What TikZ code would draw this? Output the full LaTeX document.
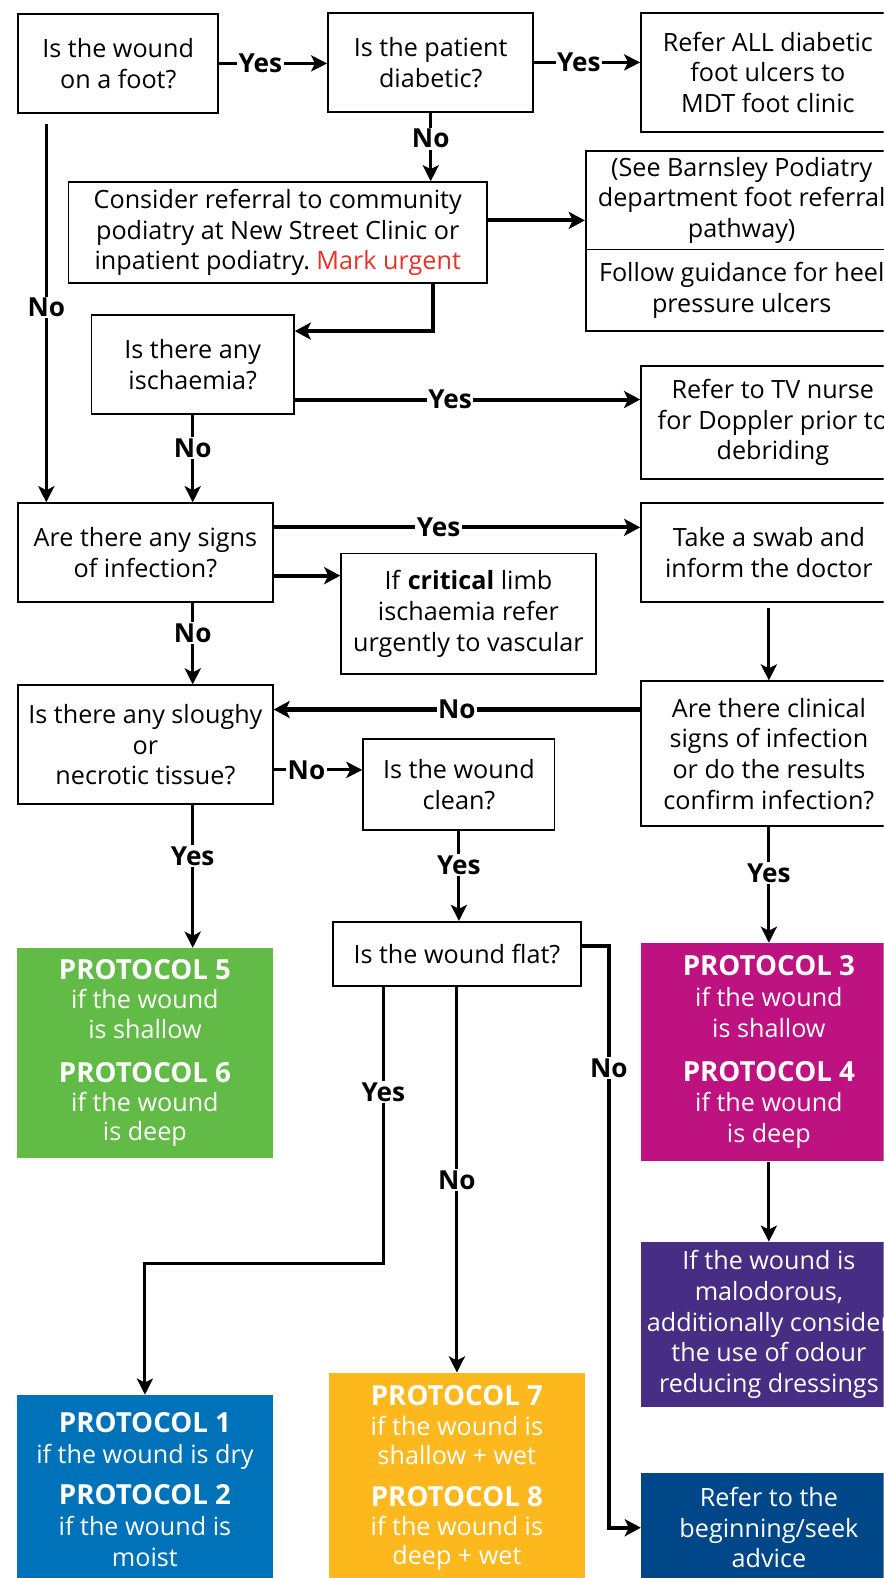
\documentclass[tikz,border=0pt]{standalone}
\usepackage{fontspec}
\setmainfont{Open Sans}
\usetikzlibrary{arrows.meta,calc}
\definecolor{pgreen}{RGB}{98,187,70}
\definecolor{pmag}{RGB}{190,18,128}
\definecolor{ppurple}{RGB}{72,45,132}
\definecolor{pdblue}{RGB}{0,71,138}
\definecolor{pblue}{RGB}{0,114,185}
\definecolor{pyellow}{RGB}{253,184,30}
\definecolor{mred}{RGB}{230,50,40}
\newcommand{\tf}{\fontsize{25}{30.5}\selectfont}
\newcommand{\tfs}{\fontsize{25}{29}\selectfont}
\newcommand{\ph}[1]{{\fontsize{27.5}{30}\selectfont\bfseries #1}}
\begin{document}
\begin{tikzpicture}[x=1pt,y=-1pt,
  box/.style={draw,line width=1.8pt,align=center,inner sep=0pt,font=\tf},
  pbox/.style={fill=#1,text=white,align=center,inner sep=0pt,font=\tf},
  arr/.style={line width=3pt,-{Stealth[length=16pt,width=16pt,inset=4pt]}},
  arrk/.style={line width=4pt,-{Stealth[length=16pt,width=17pt,inset=4pt]}},
  lbl/.style={fill=white,inner sep=1.5pt,font=\fontsize{26}{28}\selectfont\bfseries}]
\useasboundingbox (0,0) rectangle (878,1568);
\clip (0,0) rectangle (878,1568);
\fill[white] (0,0) rectangle (878,1568);
% boxes
\node[box,minimum width=199pt,minimum height=98pt] (A) at (117.5,63) {Is the wound\\on a foot?};
\node[box,minimum width=204pt,minimum height=98pt] (B) at (428,62) {Is the patient\\diabetic?};
\node[box,minimum width=252pt,minimum height=118pt] (C) at (763,72) {Refer ALL diabetic\\foot ulcers to\\MDT foot clinic};
\node[box,minimum width=416pt,minimum height=100pt] (D) at (276,231) {Consider referral to community\\podiatry at New Street Clinic or\\inpatient podiatry.\ \textcolor{mred}{Mark urgent}};
\node[box,minimum width=310pt,minimum height=98pt] (E) at (737,199) {(See Barnsley Podiatry\\department foot referral\\pathway)};
\node[box,minimum width=310pt,minimum height=81pt] (F) at (737,288.5) {Follow guidance for heel\\pressure ulcers};
\node[box,minimum width=201pt,minimum height=98pt] (G) at (191.5,362) {Is there any\\ischaemia?};
\node[box,minimum width=262pt,minimum height=112pt] (H) at (768,420) {Refer to TV nurse\\for Doppler prior to\\debriding};
\node[box,minimum width=253pt,minimum height=98pt] (I) at (144.5,549) {Are there any signs\\of infection?};
\node[box,minimum width=254pt,minimum height=98pt] (J) at (764,549) {Take a swab and\\inform the doctor};
\node[box,minimum width=253pt,minimum height=120pt] (K) at (465.5,610) {If \textbf{critical} limb\\ischaemia refer\\urgently to vascular};
\node[box,minimum width=253pt,minimum height=118pt] (L) at (144.5,740) {Is there any sloughy\\or\\necrotic tissue?};
\node[box,minimum width=254pt,minimum height=144pt] (M) at (764,749) {Are there clinical\\signs of infection\\or do the results\\confirm infection?};
\node[box,minimum width=190pt,minimum height=91pt] (N) at (456,779.5) {Is the wound\\clean?};
\node[box,minimum width=246pt,minimum height=64pt] (O) at (454,948) {Is the wound flat?};
% coloured boxes
\node[pbox=pgreen,font=\tfs,minimum width=254pt,minimum height=209pt] (P5) at (144,1046.5) {\ph{PROTOCOL 5}\\if the wound\\is shallow\\[15pt]\ph{PROTOCOL 6}\\if the wound\\is deep};
\node[pbox=pmag,minimum width=254pt,minimum height=217pt] (P3) at (764,1045.5) {\ph{PROTOCOL 3}\\if the wound\\is shallow\\[13pt]\ph{PROTOCOL 4}\\if the wound\\is deep};
\node[pbox=ppurple,minimum width=254pt,minimum height=164pt] (T) at (764,1316) {If the wound is\\malodorous,\\additionally consider\\the use of odour\\reducing dressings};
\node[pbox=pdblue,minimum width=254pt,minimum height=108pt] (S) at (764,1518) {Refer to the\\beginning/seek\\advice};
\node[pbox=pblue,minimum width=254pt,minimum height=188pt] (Q) at (144,1480) {\ph{PROTOCOL 1}\\if the wound is dry\\[11pt]\ph{PROTOCOL 2}\\if the wound is\\moist};
\node[pbox=pyellow,font=\tfs,minimum width=254pt,minimum height=210pt] (R) at (454,1469) {\ph{PROTOCOL 7}\\if the wound is\\shallow + wet\\[13pt]\ph{PROTOCOL 8}\\if the wound is\\deep + wet};
% helper coordinates
\coordinate (dg) at (430,329);
\coordinate (ax) at (46,112);
\coordinate (yb) at (381,1255);
\coordinate (sb) at (605,940);
% connectors
\draw[arr] (A.east) -- node[lbl,pos=.38]{Yes} (A.east -| B.west);
\draw[arr] (B.east) -- node[lbl,pos=.42]{Yes} (B.east -| C.west);
\draw[arr] (B.south) -- node[lbl,pos=.38]{No} (B.south |- D.north);
\draw[arrk] ([yshift=12pt]D.east) -- ([yshift=12pt]D.east -| E.west);
\draw[arrk] (dg |- D.south) -- (dg) -- (dg -| G.east);
\draw[arr,shorten <=11pt] (ax) -- node[lbl,pos=.5]{No} (ax |- I.north);
\draw[arrk] ([yshift=-35pt]G.east) -- node[lbl,pos=.45]{Yes} ([yshift=-35pt]G.east -| H.west);
\draw[arr] (G.south) -- node[lbl,pos=.38]{No} (G.south |- I.north);
\draw[arrk] ([yshift=25pt]I.east) -- node[lbl,pos=.45]{Yes} ([yshift=25pt]I.east -| J.west);
\draw[arrk] ([yshift=-23pt]I.east) -- ([yshift=-23pt]I.east -| K.west);
\draw[arr] (G.south |- I.south) -- node[lbl,pos=.37]{No} (G.south |- L.north);
\draw[arr,shorten <=5pt] (J.south) -- (J.south |- M.north);
\draw[arrk] ([yshift=44pt]M.west) -- node[lbl,pos=.5]{No} ([yshift=44pt]M.west -| L.east);
\draw[arr] ([yshift=-25pt]L.east) -- node[lbl,pos=.37]{No} ([yshift=-25pt]L.east -| N.west);
\draw[arr] (N.south) -- node[lbl,pos=.38]{Yes} (N.south |- O.north);
\draw[arr] (G.south |- L.south) -- node[lbl,pos=.36]{Yes} (G.south |- P5.north);
\draw[arr] (M.south) -- node[lbl,pos=.4]{Yes} (M.south |- P3.north);
\draw[arr] (P3.south) -- (T.north);
\draw[arr] (yb |- O.south) -- node[lbl,pos=.38]{Yes} (yb) -| (Q.north);
\draw[arr] (O.south) -- node[lbl,pos=.5]{No} (O.south |- R.north);
\draw[arrk] (sb -| O.east) -- (sb) -- node[lbl,pos=.21]{No} (sb |- S.west) -- (S.west);
\end{tikzpicture}
\end{document}
